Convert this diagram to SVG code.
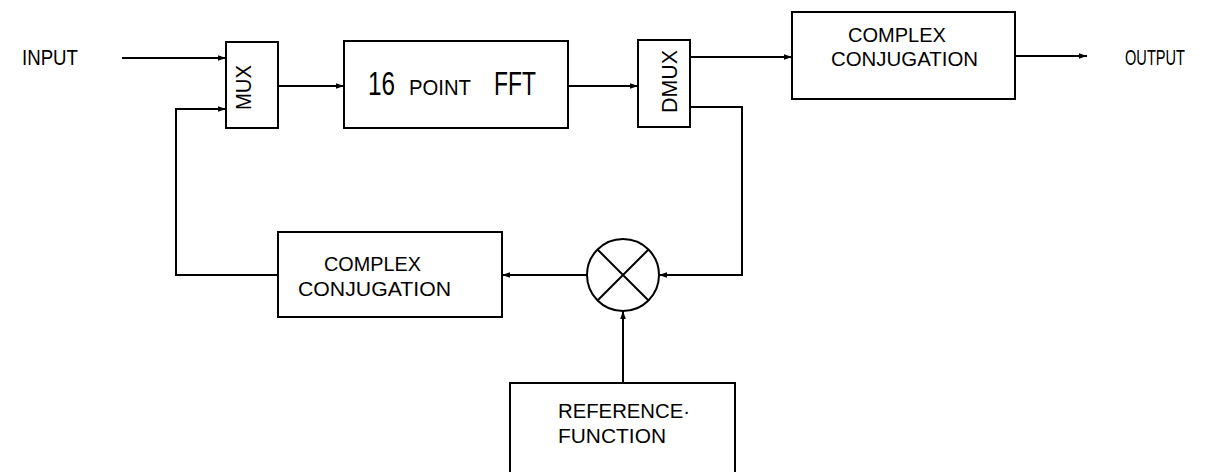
<svg xmlns="http://www.w3.org/2000/svg" width="1220" height="472" viewBox="0 0 1220 472">
<style>
.box{fill:#fff;stroke:#000;stroke-width:2}
.ln{fill:none;stroke:#000;stroke-width:2}
.t{font-family:"Liberation Sans",Arial,sans-serif;font-size:22px;fill:#000}
.two{font-size:20px}
.big{font-size:34px}
</style>
<defs>
<marker id="ah" viewBox="0 0 10 10" refX="10" refY="5" markerWidth="10" markerHeight="8" markerUnits="userSpaceOnUse" orient="auto">
<path d="M0,1.5 L10,5 L0,8.5 Z" fill="#000"/>
</marker>
</defs>
<rect width="1220" height="472" fill="#fff"/>
<g id="connectors">
<path class="ln" d="M122,58 H226" marker-end="url(#ah)"/>
<path class="ln" d="M176,245 V109 H226" marker-end="url(#ah)"/>
<path class="ln" d="M278,86 H344" marker-end="url(#ah)"/>
<path class="ln" d="M568,86 H638" marker-end="url(#ah)"/>
<path class="ln" d="M690,57 H792" marker-end="url(#ah)"/>
<path class="ln" d="M1015,56 H1087" marker-end="url(#ah)"/>
<path class="ln" d="M690,107 H742 V275 H659" marker-end="url(#ah)"/>
<path class="ln" d="M587,275 H502" marker-end="url(#ah)"/>
<path class="ln" d="M278,275 H176 V245"/>
<path class="ln" d="M623,383 V311" marker-end="url(#ah)"/>
</g>
<g id="input"><text class="t" x="22" y="65" textLength="56" lengthAdjust="spacingAndGlyphs">INPUT</text></g>
<g id="output"><text class="t" x="1125" y="65" font-size="20" textLength="60" lengthAdjust="spacingAndGlyphs">OUTPUT</text></g>
<g id="mux">
<rect class="box" x="226" y="42" width="52" height="86"/>
<text class="t" transform="translate(251,110) rotate(-90)" textLength="45" lengthAdjust="spacingAndGlyphs">MUX</text>
</g>
<g id="fft">
<rect class="box" x="344" y="41" width="224" height="87"/>
<text class="t big" x="368" y="95" textLength="27" lengthAdjust="spacingAndGlyphs">16</text>
<text class="t" x="409" y="95" textLength="62" lengthAdjust="spacingAndGlyphs">POINT</text>
<text class="t big" x="494" y="95" textLength="42" lengthAdjust="spacingAndGlyphs">FFT</text>
</g>
<g id="dmux">
<rect class="box" x="638" y="40" width="52" height="87"/>
<text class="t" transform="translate(677,113) rotate(-90)" textLength="63" lengthAdjust="spacingAndGlyphs">DMUX</text>
</g>
<g id="conj-top">
<rect class="box" x="792" y="12" width="223" height="87"/>
<text class="t two" x="848" y="42" textLength="98" lengthAdjust="spacingAndGlyphs">COMPLEX</text>
<text class="t two" x="831" y="66" textLength="147" lengthAdjust="spacingAndGlyphs">CONJUGATION</text>
</g>
<g id="conj-bottom">
<rect class="box" x="278" y="232" width="224" height="85"/>
<text class="t two" x="324" y="271" textLength="97" lengthAdjust="spacingAndGlyphs">COMPLEX</text>
<text class="t two" x="298" y="296" textLength="153" lengthAdjust="spacingAndGlyphs">CONJUGATION</text>
</g>
<g id="multiplier">
<circle class="ln" cx="623" cy="275" r="36"/>
<path class="ln" d="M597.5,249.5 L648.5,300.5 M648.5,249.5 L597.5,300.5"/>
</g>
<g id="reference">
<path class="ln" d="M510,472 V383 H735 V472"/>
<text class="t two" x="558" y="418" textLength="132" lengthAdjust="spacingAndGlyphs">REFERENCE·</text>
<text class="t two" x="558" y="443" textLength="108" lengthAdjust="spacingAndGlyphs">FUNCTION</text>
</g>
</svg>
